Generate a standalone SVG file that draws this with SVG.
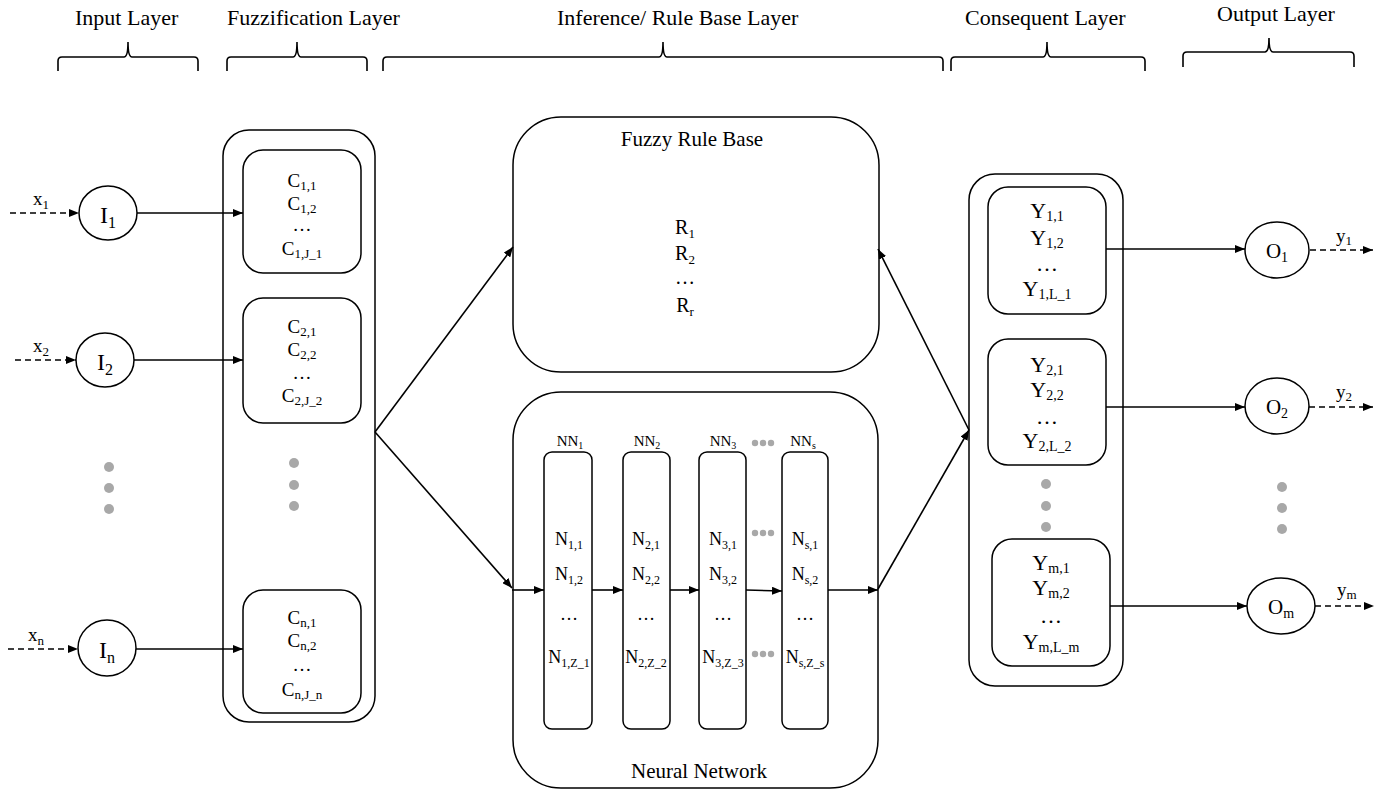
<svg xmlns="http://www.w3.org/2000/svg" width="1394" height="793" viewBox="0 0 1394 793">
  <defs>
    <marker id="ah" viewBox="0 0 10 8" refX="10" refY="4" markerWidth="10" markerHeight="8" orient="auto" markerUnits="userSpaceOnUse">
      <path d="M0,0 L10,4 L0,8 z" fill="#000"/>
    </marker>
    <style>
      text { font-family: "Liberation Serif", "Times New Roman", serif; fill: #000; }
      .hdr { font-size: 22px; }
      .box { fill: #fff; stroke: #000; stroke-width: 1.5; }
      .brace { fill: none; stroke: #000; stroke-width: 1.6; }
      .conn { fill: none; stroke: #000; stroke-width: 1.6; }
      .dash { fill: none; stroke: #000; stroke-width: 1.6; stroke-dasharray: 6 4; }
      .dot { fill: #a8a8a8; }
      .c { font-size: 19px; text-anchor: middle; }
      .r { font-size: 20px; text-anchor: middle; }
      .n { font-size: 18px; text-anchor: middle; }
      .nn { font-size: 15px; text-anchor: middle; }
      .y { font-size: 22px; text-anchor: middle; }
      .io { font-size: 19px; }
      .circ { font-size: 24px; text-anchor: middle; }
      .ocirc { font-size: 21px; text-anchor: middle; }
      .title { font-size: 21px; text-anchor: middle; }
      .sc { font-size: 13px; }
      .sy { font-size: 14px; }
      .sn { font-size: 12px; }
    </style>
  </defs>

  <!-- layer headers with braces -->
  <g id="headers">
    <text class="hdr" x="75" y="25">Input Layer</text>
    <text class="hdr" x="227" y="25">Fuzzification Layer</text>
    <text class="hdr" x="557" y="25">Inference/ Rule Base Layer</text>
    <text class="hdr" x="965" y="25">Consequent Layer</text>
    <text class="hdr" x="1217" y="21">Output Layer</text>
    <path class="brace" d="M58,71 V61 Q58,57 62,57 H124 Q128,57 128,42 Q128,57 132,57 H194 Q198,57 198,61 V71"/>
    <path class="brace" d="M227,71 V61 Q227,57 231,57 H293 Q297,57 297,42 Q297,57 301,57 H363 Q367,57 367,61 V71"/>
    <path class="brace" d="M383,71 V61 Q383,57 387,57 H659 Q663,57 663,42 Q663,57 667,57 H939 Q943,57 943,61 V71"/>
    <path class="brace" d="M951,71 V61 Q951,57 955,57 H1043 Q1047,57 1047,42 Q1047,57 1051,57 H1141 Q1145,57 1145,61 V71"/>
    <path class="brace" d="M1183,67 V56 Q1183,52 1187,52 H1265 Q1269,52 1269,38 Q1269,52 1273,52 H1350 Q1354,52 1354,56 V67"/>
  </g>

  <!-- input layer -->
  <g id="input-1">
    <ellipse class="box" cx="108" cy="213" rx="29" ry="27"/>
    <text class="circ" x="108" y="223">I<tspan font-size="16" dy="5">1</tspan></text>
  </g>
  <g id="input-2">
    <ellipse class="box" cx="105" cy="360" rx="29" ry="27"/>
    <text class="circ" x="105" y="370">I<tspan font-size="16" dy="5">2</tspan></text>
  </g>
  <g id="input-n">
    <ellipse class="box" cx="107" cy="648" rx="29" ry="28"/>
    <text class="circ" x="107" y="658">I<tspan font-size="16" dy="5">n</tspan></text>
  </g>
  <g id="input-dots">
    <circle class="dot" cx="109" cy="467" r="5"/>
    <circle class="dot" cx="109" cy="488" r="5"/>
    <circle class="dot" cx="109" cy="509" r="5"/>
  </g>

  <!-- fuzzification layer -->
  <g id="fuzzification">
    <rect class="box" x="223" y="130" width="152" height="592" rx="26"/>
    <circle class="dot" cx="294" cy="463" r="5"/>
    <circle class="dot" cx="294" cy="485" r="5"/>
    <circle class="dot" cx="294" cy="506" r="5"/>
  </g>
  <g id="fuzzy-set-1">
    <rect class="box" x="243" y="150" width="118" height="123" rx="20"/>
    <text class="c" x="302" y="187">C<tspan class="sc" dy="3">1,1</tspan></text>
    <text class="c" x="302" y="210">C<tspan class="sc" dy="3">1,2</tspan></text>
    <text class="c" x="302" y="231">…</text>
    <text class="c" x="302" y="255">C<tspan class="sc" dy="3">1,J_1</tspan></text>
  </g>
  <g id="fuzzy-set-2">
    <rect class="box" x="243" y="298" width="118" height="125" rx="20"/>
    <text class="c" x="302" y="333">C<tspan class="sc" dy="3">2,1</tspan></text>
    <text class="c" x="302" y="356">C<tspan class="sc" dy="3">2,2</tspan></text>
    <text class="c" x="302" y="379">…</text>
    <text class="c" x="302" y="402">C<tspan class="sc" dy="3">2,J_2</tspan></text>
  </g>
  <g id="fuzzy-set-n">
    <rect class="box" x="243" y="590" width="118" height="123" rx="20"/>
    <text class="c" x="302" y="624">C<tspan class="sc" dy="3">n,1</tspan></text>
    <text class="c" x="302" y="647">C<tspan class="sc" dy="3">n,2</tspan></text>
    <text class="c" x="302" y="671">…</text>
    <text class="c" x="302" y="696">C<tspan class="sc" dy="3">n,J_n</tspan></text>
  </g>

  <!-- inference / rule base layer -->
  <g id="fuzzy-rule-base">
    <rect class="box" x="513" y="117" width="366" height="255" rx="48"/>
    <text class="title" x="692" y="146">Fuzzy Rule Base</text>
    <text class="r" x="685" y="234">R<tspan class="sc" dy="4">1</tspan></text>
    <text class="r" x="685" y="260">R<tspan class="sc" dy="4">2</tspan></text>
    <text class="r" x="685" y="284">…</text>
    <text class="r" x="685" y="312">R<tspan class="sc" dy="4">r</tspan></text>
  </g>
  <g id="neural-network">
    <rect class="box" x="513" y="392" width="365" height="396" rx="48"/>
    <text class="title" x="699" y="778">Neural Network</text>
    <circle class="dot" cx="755" cy="443" r="3.2"/>
    <circle class="dot" cx="763" cy="443" r="3.2"/>
    <circle class="dot" cx="771" cy="443" r="3.2"/>
    <circle class="dot" cx="755" cy="533" r="3.2"/>
    <circle class="dot" cx="763" cy="533" r="3.2"/>
    <circle class="dot" cx="771" cy="533" r="3.2"/>
    <circle class="dot" cx="755" cy="654" r="3.2"/>
    <circle class="dot" cx="763" cy="654" r="3.2"/>
    <circle class="dot" cx="771" cy="654" r="3.2"/>
  </g>
  <g id="nn-1">
    <text class="nn" x="570" y="446">NN<tspan font-size="10" dy="3">1</tspan></text>
    <rect class="box" x="544" y="452" width="48" height="277" rx="8"/>
    <text class="n" x="569" y="545">N<tspan class="sn" dy="4">1,1</tspan></text>
    <text class="n" x="569" y="580">N<tspan class="sn" dy="4">1,2</tspan></text>
    <text class="n" x="569" y="620">…</text>
    <text class="n" x="569" y="663">N<tspan class="sn" dy="4">1,Z_1</tspan></text>
  </g>
  <g id="nn-2">
    <text class="nn" x="647" y="446">NN<tspan font-size="10" dy="3">2</tspan></text>
    <rect class="box" x="623" y="452" width="47" height="277" rx="8"/>
    <text class="n" x="646" y="545">N<tspan class="sn" dy="4">2,1</tspan></text>
    <text class="n" x="646" y="580">N<tspan class="sn" dy="4">2,2</tspan></text>
    <text class="n" x="646" y="620">…</text>
    <text class="n" x="646" y="663">N<tspan class="sn" dy="4">2,Z_2</tspan></text>
  </g>
  <g id="nn-3">
    <text class="nn" x="723" y="446">NN<tspan font-size="10" dy="3">3</tspan></text>
    <rect class="box" x="699" y="452" width="47" height="277" rx="8"/>
    <text class="n" x="723" y="545">N<tspan class="sn" dy="4">3,1</tspan></text>
    <text class="n" x="723" y="580">N<tspan class="sn" dy="4">3,2</tspan></text>
    <text class="n" x="723" y="620">…</text>
    <text class="n" x="723" y="663">N<tspan class="sn" dy="4">3,Z_3</tspan></text>
  </g>
  <g id="nn-s">
    <text class="nn" x="803" y="446">NN<tspan font-size="10" dy="3">s</tspan></text>
    <rect class="box" x="782" y="452" width="46" height="277" rx="8"/>
    <text class="n" x="805" y="545">N<tspan class="sn" dy="4">s,1</tspan></text>
    <text class="n" x="805" y="580">N<tspan class="sn" dy="4">s,2</tspan></text>
    <text class="n" x="805" y="620">…</text>
    <text class="n" x="805" y="663">N<tspan class="sn" dy="4">s,Z_s</tspan></text>
  </g>

  <!-- consequent layer -->
  <g id="consequent">
    <rect class="box" x="969" y="174" width="154" height="512" rx="26"/>
    <circle class="dot" cx="1046" cy="484" r="5"/>
    <circle class="dot" cx="1046" cy="506" r="5"/>
    <circle class="dot" cx="1046" cy="527" r="5"/>
  </g>
  <g id="consequent-1">
    <rect class="box" x="988" y="187" width="118" height="127" rx="20"/>
    <text class="y" x="1047" y="218">Y<tspan class="sy" dy="3">1,1</tspan></text>
    <text class="y" x="1047" y="245">Y<tspan class="sy" dy="3">1,2</tspan></text>
    <text class="y" x="1047" y="271">…</text>
    <text class="y" x="1047" y="296">Y<tspan class="sy" dy="3">1,L_1</tspan></text>
  </g>
  <g id="consequent-2">
    <rect class="box" x="988" y="339" width="118" height="126" rx="20"/>
    <text class="y" x="1047" y="372">Y<tspan class="sy" dy="3">2,1</tspan></text>
    <text class="y" x="1047" y="397">Y<tspan class="sy" dy="3">2,2</tspan></text>
    <text class="y" x="1047" y="424">…</text>
    <text class="y" x="1047" y="448">Y<tspan class="sy" dy="3">2,L_2</tspan></text>
  </g>
  <g id="consequent-m">
    <rect class="box" x="992" y="539" width="118" height="127" rx="20"/>
    <text class="y" x="1051" y="570">Y<tspan class="sy" dy="3">m,1</tspan></text>
    <text class="y" x="1051" y="595">Y<tspan class="sy" dy="3">m,2</tspan></text>
    <text class="y" x="1051" y="623">…</text>
    <text class="y" x="1051" y="649">Y<tspan class="sy" dy="3">m,L_m</tspan></text>
  </g>

  <!-- output layer -->
  <g id="output-1">
    <ellipse class="box" cx="1277" cy="250" rx="32" ry="28"/>
    <text class="ocirc" x="1277" y="258">O<tspan font-size="14" dy="4">1</tspan></text>
  </g>
  <g id="output-2">
    <ellipse class="box" cx="1277" cy="406" rx="32" ry="28"/>
    <text class="ocirc" x="1277" y="414">O<tspan font-size="14" dy="4">2</tspan></text>
  </g>
  <g id="output-m">
    <ellipse class="box" cx="1281" cy="606" rx="34" ry="28"/>
    <text class="ocirc" x="1281" y="614">O<tspan font-size="14" dy="4">m</tspan></text>
  </g>
  <g id="output-dots">
    <circle class="dot" cx="1282" cy="487" r="5"/>
    <circle class="dot" cx="1282" cy="508" r="5"/>
    <circle class="dot" cx="1282" cy="529" r="5"/>
  </g>

  <!-- signal labels -->
  <g id="labels">
    <text class="io" x="33" y="205">x<tspan class="sc" dy="4">1</tspan></text>
    <text class="io" x="33" y="352">x<tspan class="sc" dy="4">2</tspan></text>
    <text class="io" x="28" y="641">x<tspan class="sc" dy="4">n</tspan></text>
    <text class="io" x="1336" y="242">y<tspan class="sc" dy="3">1</tspan></text>
    <text class="io" x="1336" y="398">y<tspan class="sc" dy="3">2</tspan></text>
    <text class="io" x="1337" y="596">y<tspan class="sc" dy="3">m</tspan></text>
  </g>

  <!-- connectors -->
  <g id="connectors">
    <path class="dash" d="M10,213 H79" marker-end="url(#ah)"/>
    <path class="dash" d="M15,360 H76" marker-end="url(#ah)"/>
    <path class="dash" d="M8,649 H78" marker-end="url(#ah)"/>
    <path class="conn" d="M137,213 H243" marker-end="url(#ah)"/>
    <path class="conn" d="M134,360 H243" marker-end="url(#ah)"/>
    <path class="conn" d="M136,649 H243" marker-end="url(#ah)"/>
    <path class="conn" d="M375,432 L513,247" marker-end="url(#ah)"/>
    <path class="conn" d="M375,432 L512,588" marker-end="url(#ah)"/>
    <path class="conn" d="M512,590 H544" marker-end="url(#ah)"/>
    <path class="conn" d="M592,590 H623" marker-end="url(#ah)"/>
    <path class="conn" d="M670,590 H699" marker-end="url(#ah)"/>
    <path class="conn" d="M746,590 L782,591" marker-end="url(#ah)"/>
    <path class="conn" d="M828,590 H878" marker-end="url(#ah)"/>
    <path class="conn" d="M878,589 L969,430" marker-end="url(#ah)"/>
    <path class="conn" d="M969,430 L878,249" marker-end="url(#ah)"/>
    <path class="conn" d="M1106,249 H1245" marker-end="url(#ah)"/>
    <path class="conn" d="M1106,407 H1245" marker-end="url(#ah)"/>
    <path class="conn" d="M1110,606 H1247" marker-end="url(#ah)"/>
    <path class="dash" d="M1310,250 H1373" marker-end="url(#ah)"/>
    <path class="dash" d="M1309,407 H1373" marker-end="url(#ah)"/>
    <path class="dash" d="M1315,606 H1374" marker-end="url(#ah)"/>
  </g>
</svg>
